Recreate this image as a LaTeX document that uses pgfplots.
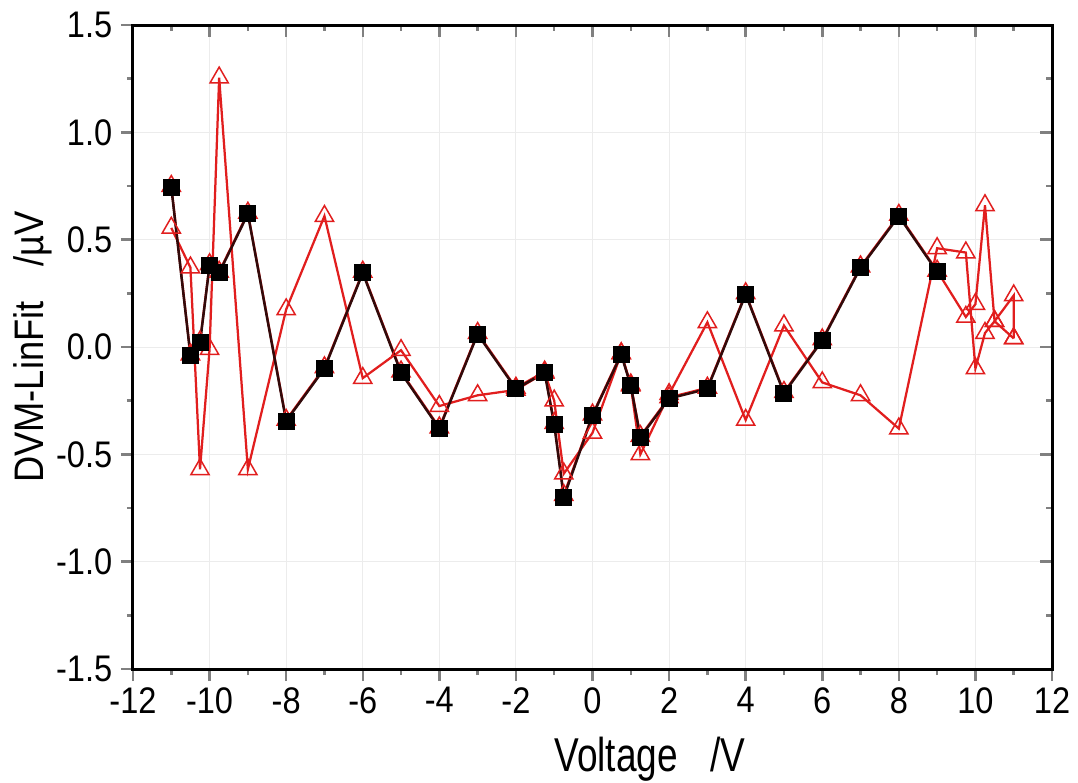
\documentclass[border=0pt]{standalone}
\usepackage{pgfplots}
\pgfplotsset{compat=1.18}
\usepackage{fontspec}
\setmainfont{Liberation Sans}
\newfontfamily\tickfont[FakeStretch=0.88]{Liberation Sans}
\newfontfamily\xlabfont[FakeStretch=0.78]{Liberation Sans}
\newfontfamily\ylabfont[FakeStretch=0.88]{Liberation Sans}

% black squares
\pgfplotstableread{
x y
-11 0.745
-10.5 -0.04
-10.25 0.02
-10 0.38
-9.75 0.345
-9 0.62
-8 -0.345
-7 -0.10
-6 0.345
-5 -0.12
-4 -0.38
-3 0.06
-2 -0.195
-1.25 -0.12
-1 -0.36
-0.75 -0.70
0 -0.32
0.75 -0.035
1 -0.18
1.25 -0.42
2 -0.24
3 -0.195
4 0.245
5 -0.215
6 0.03
7 0.37
8 0.61
9 0.35
}\blackdata

% red triangles, under the black curve
\pgfplotstableread{
x y
-11 0.75
-10.5 -0.035
-10.25 0.025
-10 0.385
-9.75 0.35
-9 0.625
-8 -0.34
-7 -0.095
-6 0.35
-5 -0.115
-4 -0.375
-3 0.065
-2 -0.19
-1.25 -0.115
-1 -0.355
-0.75 -0.69
0 -0.315
0.75 -0.03
1 -0.175
1.25 -0.415
2 -0.235
3 -0.19
4 0.25
5 -0.21
6 0.035
7 0.375
8 0.615
9 0.355
9.75 0.14
10 0.20
10.25 0.66
10.5 0.12
11 0.24
11 0.04
}\redA

% red triangles, second run
\pgfplotstableread{
x y
-11 0.555
-10.5 0.37
-10.25 -0.57
-10 -0.01
-9.75 1.255
-9 -0.57
-8 0.175
-7 0.61
-6 -0.145
-5 -0.015
-4 -0.275
-3 -0.225
-2 -0.20
-1.25 -0.12
-1 -0.25
-0.75 -0.59
0 -0.40
0.75 -0.03
1 -0.18
1.25 -0.50
2 -0.22
3 0.115
4 -0.34
5 0.10
6 -0.165
7 -0.225
8 -0.38
9 0.46
9.75 0.44
10 -0.10
10.25 0.065
10.5 0.12
11 0.04
}\redB

\definecolor{origred}{RGB}{225,30,30}
\definecolor{darkline}{RGB}{50,10,10}

\pgfplotsset{
  myframe/.style={
    width=367.6pt, height=257.6pt, scale only axis,
    xmin=-12, xmax=12, ymin=-1.5, ymax=1.5,
    xtick={-12,-10,...,12}, ytick={-1.5,-1,...,1.5},
    minor x tick num=1, minor y tick num=1,
    axis line style={line width=1.2pt},
    major tick style={line width=1pt},
    minor tick style={line width=1pt},
    major tick length=4.8pt, minor tick length=2.4pt,
  }
}

\begin{document}
\begin{tikzpicture}
\begin{axis}[
  name=main,
  myframe,
  tick align=outside,
  xtick pos=lower, ytick pos=left,
  grid=major,
  major grid style={gray!15, line width=0.4pt},
  /pgf/number format/assume math mode=true,
  yticklabel style={/pgf/number format/.cd, fixed, fixed zerofill, precision=1},
  ticklabel style={font=\tickfont\fontsize{14.8}{16}\selectfont},
  xticklabel style={yshift=1pt},
  xlabel={Voltage\hspace{13pt}/V},
  ylabel={DVM-LinFit\hspace{14pt}/µV},
  xlabel style={font=\xlabfont\fontsize{19}{21}\selectfont,
    at={(axis description cs:0.5626,-0.1595)}, anchor=base, inner ysep=2pt},
  ylabel style={font=\ylabfont\fontsize{16.5}{18}\selectfont,
    at={(axis description cs:-0.1088,0.5)}, anchor=center},
]
\addplot[origred, line width=0.9pt, mark=triangle, mark size=4.2pt,
  mark options={solid, line width=0.6pt, fill=white}] table[x=x,y=y] {\redB};
\addplot[origred, line width=0.9pt, mark=triangle, mark size=4.2pt,
  mark options={solid, line width=0.6pt, fill=white}] table[x=x,y=y] {\redA};
\addplot[darkline, line width=1pt, mark=square*, mark size=2.9pt,
  mark options={solid, black}] table[x=x,y=y] {\blackdata};
\end{axis}
\begin{axis}[
  myframe,
  tick align=inside,
  xtick pos=upper, ytick pos=right,
  xticklabels={}, yticklabels={},
]
\end{axis}
\pgfresetboundingbox
\path[use as bounding box] ([shift={(-53.2pt,-45.6pt)}]main.south west)
  rectangle ([shift={(10.4pt,10pt)}]main.north east);
\end{tikzpicture}
\end{document}
